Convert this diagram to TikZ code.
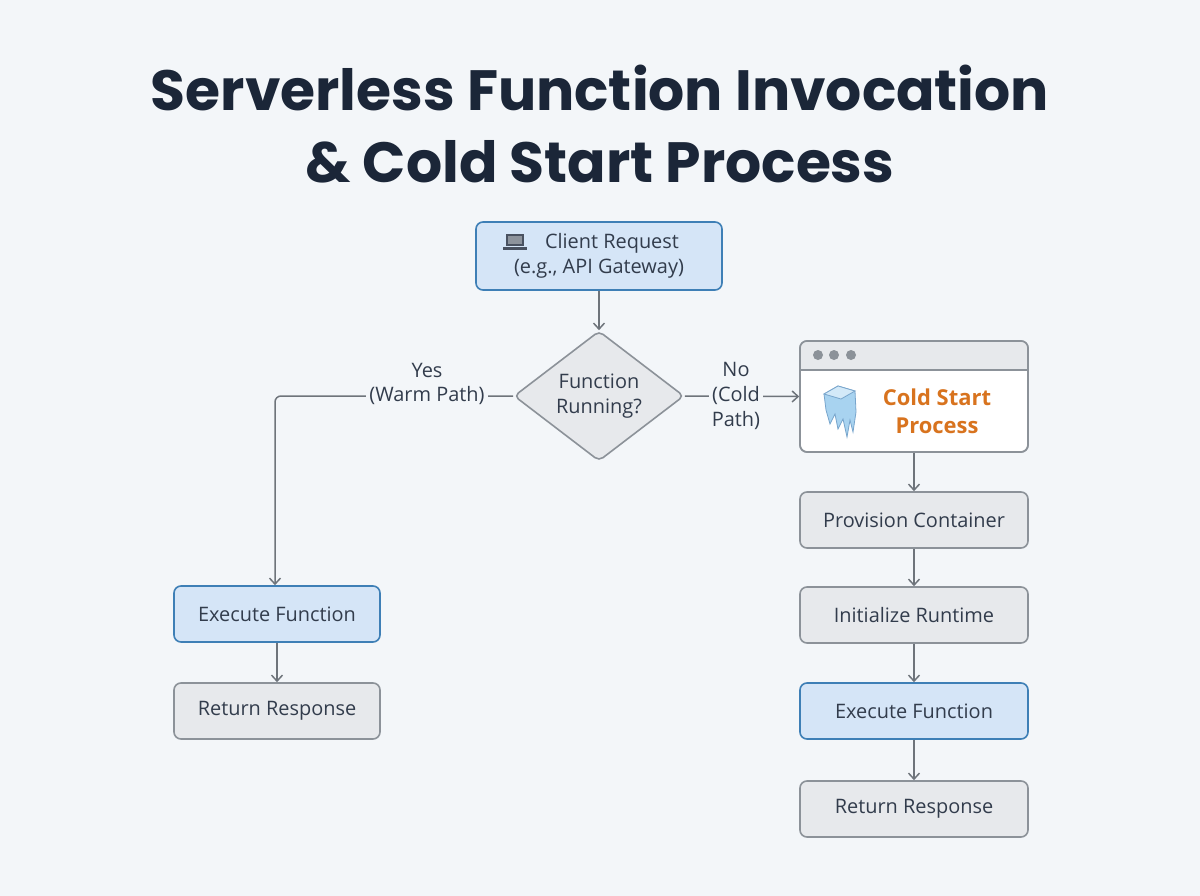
\documentclass[tikz,border=0pt]{standalone}
\usepackage{fontspec}
\setmainfont{Open Sans}
\newfontfamily\titlefont{Poppins}
\usetikzlibrary{shapes.geometric,arrows.meta}
\definecolor{bg}{HTML}{F3F6F9}
\definecolor{bluef}{HTML}{D5E5F7}
\definecolor{blued}{HTML}{3E7FB6}
\definecolor{grayf}{HTML}{E7E9EC}
\definecolor{grayd}{HTML}{8C9299}
\definecolor{ttl}{HTML}{1B2638}
\definecolor{orng}{HTML}{D8731E}
\definecolor{linec}{HTML}{6E747B}
\definecolor{ice}{HTML}{A8D3F0}
\begin{document}
\begin{tikzpicture}[x=1bp,y=-1bp,
  box/.style={draw=grayd,fill=grayf,line width=1.6bp,rounded corners=7bp,minimum width=228bp,minimum height=56bp,font=\fontsize{20}{25}\selectfont,text=ttl!90},
  bbox/.style={box,draw=blued,fill=bluef},
  conn/.style={draw=linec,line width=1.5bp,-{Straight Barb[length=6bp,width=11bp]}},
  lbl/.style={font=\fontsize{20}{25}\selectfont,align=center,text=ttl!90,fill=bg,inner sep=3bp}]
\fill[bg] (0,0) rectangle (1200,896);
\useasboundingbox (0,0) rectangle (1200,896);
\node[font=\titlefont\bfseries\fontsize{57}{73}\selectfont,text=ttl,align=center] (title) at (600,124) {Serverless Function Invocation\\\& Cold Start Process};
\node[bbox,minimum width=246bp,minimum height=68bp,align=center] (client) at (599,256) {\hspace{26bp}Client Request\\(e.g., API Gateway)};
% laptop icon
\fill[ttl!80] (506,234) rectangle (524,246);
\fill[ttl!50] (508,236) rectangle (522,244);
\fill[ttl!80] (503,247) rectangle (527,250);
\node[diamond,draw=grayd,fill=grayf,line width=1.6bp,minimum width=170bp,minimum height=130bp,inner sep=0pt,align=center,font=\fontsize{20}{25}\selectfont,text=ttl!90,rounded corners=5bp] (dec) at (599,396) {Function\\Running?};
\node[bbox,minimum width=206bp] (execL) at (277,614) {Execute Function};
\node[box,minimum width=206bp] (retL) at (277,711) {Return Response};
% cold box
\node[box,fill=white,minimum width=228bp,minimum height=111bp] (cold) at (914,396.5) {};
\begin{scope}
\clip[rounded corners=7bp] (800,341) rectangle (1028,452);
\fill[grayf] (800,341) rectangle (1028,370);
\end{scope}
\draw[grayd,line width=1.6bp] (800,370) -- (1028,370);
\draw[grayd,line width=1.6bp,rounded corners=7bp] (800,341) rectangle (1028,452);
\foreach \xx in {818,834,851}{\fill[grayd] (\xx,355) circle (5bp);}
\node[font=\bfseries\fontsize{22}{28}\selectfont,text=orng,align=center] (coldt) at (937,411) {Cold Start\\Process};
% ice icon
\draw[blued!70,fill=ice,line width=0.8bp] (824,394) -- (838,386) -- (855,391) -- (856,412) -- (853,432) -- (850,420) -- (847,437) -- (843,419) -- (838,429) -- (835,414) -- (830,424) -- (826,410) -- cycle;
\draw[blued!70,fill=ice!50,line width=0.8bp] (824,394) -- (838,386) -- (855,391) -- (841,399) -- cycle;
\node[box] (prov) at (914,520) {Provision Container};
\node[box] (init) at (914,615) {Initialize Runtime};
\node[bbox] (execR) at (914,711) {Execute Function};
\node[box] (retR) at (914,809) {Return Response};
\draw[conn] (client) -- (dec);
\draw[conn,rounded corners=6bp] (dec.west) -- (275,396) -- (execL.north -| 275,0);
\node[lbl] (yes) at (427,384) {Yes\\(Warm Path)};
\draw[conn] (dec.east) -- (cold.west);
\node[lbl] (no) at (736,396) {No\\(Cold\\Path)};
\draw[conn] (execL) -- (retL);
\draw[conn] (cold) -- (prov);
\draw[conn] (prov) -- (init);
\draw[conn] (init) -- (execR);
\draw[conn] (execR) -- (retR);
\end{tikzpicture}
\end{document}
